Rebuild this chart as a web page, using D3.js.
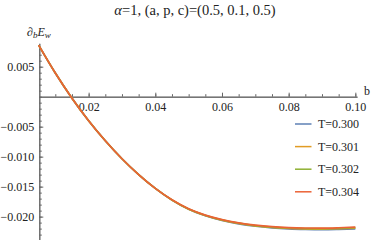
<!DOCTYPE html>
<html lang="en">
<head>
<meta charset="UTF-8">
<title>dE/db vs b</title>
<script src="https://d3js.org/d3.v7.min.js"></script>
<style>
  body { margin: 0; background: #fff; }
  svg text { font-family: "Liberation Serif", "DejaVu Serif", serif; fill: #222; }
  .axis path, .axis line { stroke: #666; stroke-width: 1px; }
</style>
</head>
<body>
<svg></svg>
<script>
// values (units of 1e-4)
var bVals = [0.005, 0.010, 0.015, 0.020, 0.025, 0.030, 0.035, 0.040, 0.045, 0.050,
             0.055, 0.060, 0.065, 0.070, 0.075, 0.080, 0.085, 0.090, 0.095, 0.100];
var t300 = [86, 39.5, -2.5, -40, -73.5, -103.5, -130, -153, -172.5, -187.8,
            -198.5, -206.3, -212, -216, -218.7, -220.4, -221.3, -221.7, -221.2, -220.3];
var t301 = [86, 39.5, -2.5, -40, -73.5, -103.5, -130, -153, -172.3, -187.5,
            -198.1, -205.8, -211.4, -215.3, -217.9, -219.5, -220.3, -220.7, -220.1, -219.1];
var t302 = [86, 39.5, -2.5, -40, -73.5, -103.5, -130, -153, -172.2, -187.3,
            -197.9, -205.5, -211, -214.9, -217.5, -219, -219.8, -220.1, -219.5, -218.5];
var t304 = [86, 39.5, -2.5, -40, -73.5, -103.5, -130, -153, -172, -187,
            -197.5, -205, -210.5, -214.3, -216.8, -218.3, -219, -219.2, -218.6, -217.5];
var seriesNames = ["T=0.300", "T=0.301", "T=0.302", "T=0.304"];
var seriesColors = ["#5e81b5", "#e19c24", "#8fb032", "#eb6235"];
var xTicks = [0.02, 0.04, 0.06, 0.08, 0.10];
var yTicks = [-0.020, -0.015, -0.010, -0.005, 0.005];

var width = 374, height = 240;
var serif = '"Liberation Serif", "DejaVu Serif", serif';
var svg = d3.select("svg").attr("width", width).attr("height", height);

var x = d3.scaleLinear().domain([0.0052, 0.1005]).range([39.3, 357]);
var y = d3.scaleLinear().domain([-0.0239, 0.0089]).range([240, 43.3]);

// minor ticks first
svg.append("g").attr("class", "axis")
    .attr("transform", "translate(0," + y(0) + ")")
    .call(d3.axisBottom(x).tickValues(d3.range(0.01, 0.1001, 0.005)).tickSizeInner(-2.5).tickSizeOuter(0).tickFormat(""));
svg.append("g").attr("class", "axis")
    .attr("transform", "translate(" + x.range()[0] + ",0)")
    .call(d3.axisLeft(y).tickValues(d3.range(-0.023, 0.0085, 0.001)).tickSizeInner(-2.5).tickSizeOuter(0).tickFormat(""));

// major ticks with labels
var gx = svg.append("g").attr("class", "axis")
    .attr("transform", "translate(0," + y(0) + ")")
    .call(d3.axisBottom(x).tickValues(xTicks).tickSizeInner(-4).tickSizeOuter(0).tickPadding(6).tickFormat(d3.format(".2f")));
var gy = svg.append("g").attr("class", "axis")
    .attr("transform", "translate(" + x.range()[0] + ",0)")
    .call(d3.axisLeft(y).tickValues(yTicks).tickSizeInner(-4).tickSizeOuter(0).tickPadding(5).tickFormat(d3.format(".3f")));
[gx, gy].forEach(function (g) {
    g.attr("font-family", serif).attr("font-size", 12);
    g.selectAll("text").style("font-family", serif).style("font-size", "12px").attr("fill", "#222");
});

// curves
var allSeries = [t300, t301, t302, t304];
var line = d3.line()
    .x(function (d, i) { return x(bVals[i]); })
    .y(function (d) { return y(d * 1e-4); })
    .curve(d3.curveMonotoneX);
allSeries.forEach(function (s, k) {
    svg.append("path")
        .attr("d", line(s))
        .attr("fill", "none")
        .attr("stroke", seriesColors[k])
        .attr("stroke-width", 1.7);
});

// title and axis labels
svg.append("text")
    .attr("x", 195).attr("y", 15)
    .attr("text-anchor", "middle")
    .style("font-size", "14.5px")
    .html('<tspan font-style="italic">α</tspan>=1, (a, p, c)=(0.5, 0.1, 0.5)');

svg.append("text")
    .attr("x", 27).attr("y", 36)
    .style("font-size", "12px")
    .html('<tspan>∂</tspan><tspan font-style="italic" font-size="9px" dy="2">b</tspan><tspan font-style="italic" dy="-2">E</tspan><tspan font-style="italic" font-size="9px" dy="2">w</tspan>');

svg.append("text")
    .attr("x", 364).attr("y", 95)
    .style("font-size", "12px")
    .text("b");

// legend
var legend = svg.append("g");
seriesNames.forEach(function (name, k) {
    var ly = 124 + k * 22.6;
    legend.append("line")
        .attr("x1", 295).attr("x2", 311.5)
        .attr("y1", ly).attr("y2", ly)
        .attr("stroke", seriesColors[k]).attr("stroke-width", 1.5);
    legend.append("text")
        .attr("x", 318).attr("y", ly + 4)
        .style("font-size", "12px")
        .text(name);
});
</script>
</body>
</html>
